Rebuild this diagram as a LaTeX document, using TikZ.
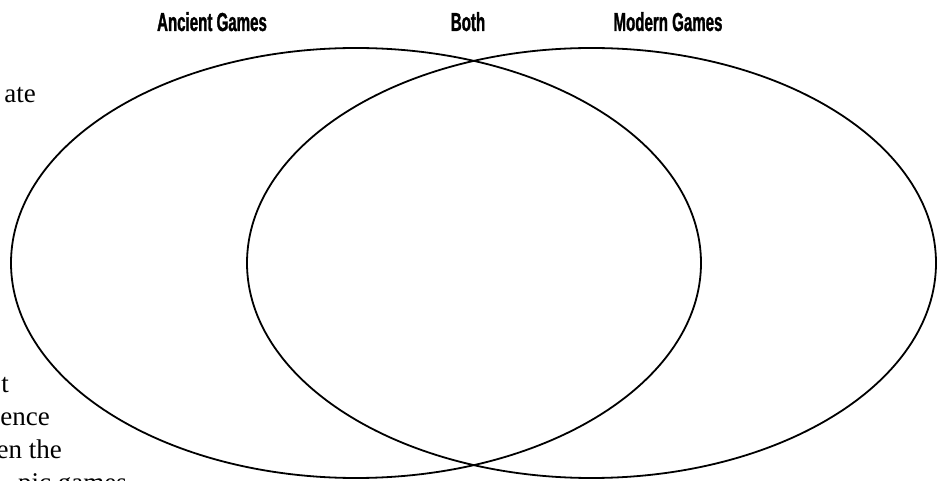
\documentclass[tikz,border=0pt]{standalone}
\usepackage{fontspec}
\newfontfamily\headfont[FakeStretch=0.58,FakeBold=1.2]{Liberation Sans}
\newfontfamily\bodyfont{Liberation Serif}
\tikzset{
  heading/.style={anchor=base, inner sep=0, font=\headfont\bfseries\fontsize{26}{30}\selectfont},
  margintext/.style={anchor=base east, inner sep=0, font=\bodyfont\fontsize{27}{33}\selectfont},
  circle line/.style={line width=1.8pt}
}
\begin{document}
\begin{tikzpicture}[x=1pt,y=-1pt]
  \useasboundingbox (0,0) rectangle (938,481);
  \clip (0,0) rectangle (938,481);

  % Cut-off question text at the left margin
  \node[margintext] (qa) at (36,103) {ate};
  \node[margintext] (qb) at (9,392) {t};
  \node[margintext] (qc) at (50,425) {ence};
  \node[margintext] (qd) at (62,458) {en the};
  \node[margintext] (qe) at (127,491) {pic games};

  % The two sets
  \draw[circle line] (356,263) ellipse (345 and 215);
  \draw[circle line] (591.5,263) ellipse (344.5 and 215);

  % Headings
  \node[heading] (ancient) at (212,31) {Ancient Games};
  \node[heading] (both) at (468,31) {Both};
  \node[heading] (modern) at (668,31) {Modern Games};

\end{tikzpicture}
\end{document}
